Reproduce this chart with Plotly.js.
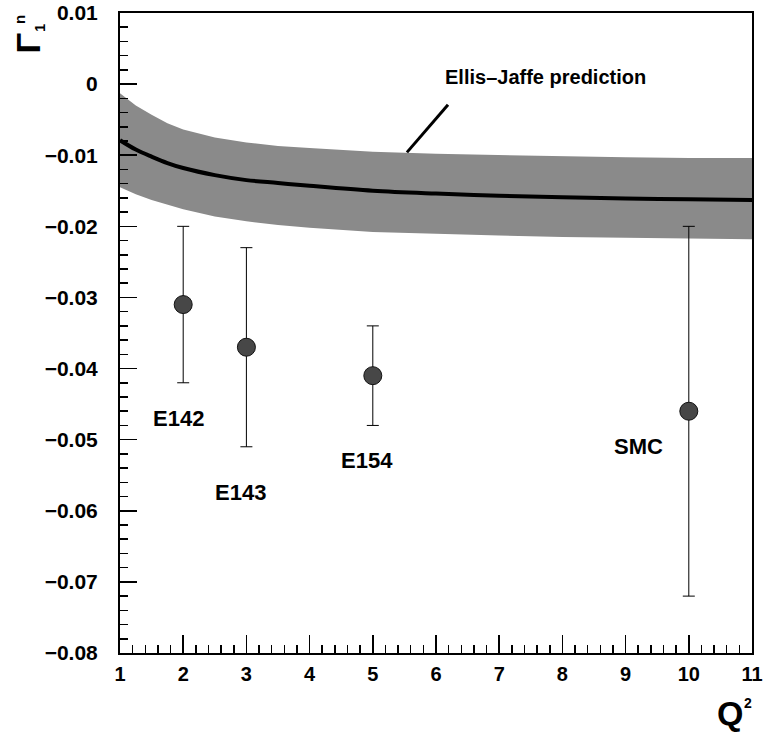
<!DOCTYPE html>
<html>
<head>
<meta charset="utf-8">
<script src="https://cdn.plot.ly/plotly-3.0.1.min.js"></script>
<style>html,body{margin:0;padding:0;background:#fff;}#chart{width:764px;height:735px;}</style>
</head>
<body>
<div id="chart"></div>
<script>
// Ellis-Jaffe prediction band
const bandQ2    = [1, 1.25, 1.5, 1.75, 2, 2.5, 3, 3.5, 4, 5, 6, 7, 8, 9, 10, 11];
const ejCentral = [-0.0079, -0.0092, -0.0102, -0.0111, -0.0118, -0.0128, -0.0135, -0.0139, -0.0143, -0.0150, -0.0154, -0.0157, -0.0159, -0.0161, -0.0162, -0.0163];
const ejUpper   = [-0.0013, -0.0030, -0.0043, -0.0055, -0.0064, -0.0075, -0.0082, -0.0087, -0.0090, -0.0095, -0.0098, -0.0100, -0.0102, -0.0103, -0.0104, -0.0104];
const ejLower   = [-0.0145, -0.0155, -0.0163, -0.0170, -0.0176, -0.0186, -0.0193, -0.0198, -0.0202, -0.0208, -0.0211, -0.0213, -0.0215, -0.0216, -0.0217, -0.0218];

// Experimental points
const expNames  = ["E142", "E143", "E154", "SMC"];
const expQ2     = [2, 3, 5, 10];
const expG1n    = [-0.031, -0.037, -0.041, -0.046];
const expErr    = [0.011, 0.014, 0.007, 0.026];
// label positions for experiment names
const labelQ2   = [1.92, 2.90, 4.91, 9.20];
const labelG1n  = [-0.0470, -0.0574, -0.0529, -0.0510];

const fontFam = "Liberation Sans, Arial, sans-serif";
const bold = (size) => ({family: fontFam, size: size, color: "#000", weight: "bold"});

const traces = [
  {x: bandQ2, y: ejLower, mode: "lines", line: {width: 0, color: "rgba(0,0,0,0)"}, hoverinfo: "skip", showlegend: false},
  {x: bandQ2, y: ejUpper, mode: "lines", line: {width: 0, color: "rgba(0,0,0,0)"}, fill: "tonexty", fillcolor: "rgb(138,138,138)", hoverinfo: "skip", showlegend: false},
  {x: bandQ2, y: ejCentral, mode: "lines", line: {color: "#000", width: 4, shape: "spline"}, showlegend: false},
  {x: expQ2, y: expG1n, mode: "markers", showlegend: false,
   marker: {symbol: "circle", size: 18, color: "#474747", line: {color: "#111", width: 1}},
   error_y: {type: "data", array: expErr, visible: true, color: "#000", thickness: 1, width: 6}}
];

const annotations = expNames.map((n, i) => ({
  x: labelQ2[i], y: labelG1n[i], xref: "x", yref: "y", text: n, showarrow: false, font: bold(22)
}));
annotations.push({x: 7.74, y: 0.0010, xref: "x", yref: "y", text: "Ellis\u2013Jaffe prediction", showarrow: false, font: bold(20)});
// y-axis symbol Γ1^n, rotated
annotations.push({x: -0.1448, y: 0.953, xref: "paper", yref: "paper", text: "\u0393", showarrow: false, textangle: -90,
  xanchor: "center", yanchor: "middle", font: bold(34)});
annotations.push({x: -0.1266, y: 0.977, xref: "paper", yref: "paper", text: "1", showarrow: false, textangle: -90,
  xanchor: "center", yanchor: "middle", font: bold(14)});
annotations.push({x: -0.1598, y: 0.989, xref: "paper", yref: "paper", text: "n", showarrow: false, textangle: -90,
  xanchor: "center", yanchor: "middle", font: bold(15)});
// x-axis symbol Q^2
annotations.push({x: 0.9650, y: -0.0937, xref: "paper", yref: "paper", text: "Q", showarrow: false,
  xanchor: "center", yanchor: "middle", font: bold(34)});
annotations.push({x: 0.9930, y: -0.078, xref: "paper", yref: "paper", text: "2", showarrow: false,
  xanchor: "center", yanchor: "middle", font: bold(14)});

const layout = {
  width: 764, height: 735,
  margin: {l: 120, r: 12, t: 13, b: 82},
  paper_bgcolor: "#fff", plot_bgcolor: "#fff",
  showlegend: false,
  xaxis: {
    range: [1, 11], dtick: 1, tick0: 1, showgrid: false, zeroline: false,
    showline: true, mirror: true, linecolor: "#000", linewidth: 2,
    ticks: "inside", ticklen: 18, tickwidth: 1.5, tickcolor: "#000",
    minor: {dtick: 0.2, ticks: "inside", ticklen: 8, tickwidth: 1.5, tickcolor: "#000", showgrid: false},
    tickfont: bold(20),
    ticklabelstandoff: 2
  },
  yaxis: {
    range: [-0.08, 0.01], dtick: 0.01, tick0: 0, showgrid: false, zeroline: false,
    showline: true, mirror: true, linecolor: "#000", linewidth: 2,
    ticks: "inside", ticklen: 17, tickwidth: 1.5, tickcolor: "#000",
    minor: {dtick: 0.002, ticks: "inside", ticklen: 8, tickwidth: 1.5, tickcolor: "#000", showgrid: false},
    tickfont: bold(21),
    ticklabelstandoff: 16
  },
  shapes: [
    {type: "line", xref: "x", yref: "y", x0: 6.19, y0: -0.0029, x1: 5.54, y1: -0.0096, line: {color: "#000", width: 3}}
  ],
  annotations: annotations
};

Plotly.newPlot("chart", traces, layout, {displayModeBar: false, staticPlot: true});
</script>
</body>
</html>
